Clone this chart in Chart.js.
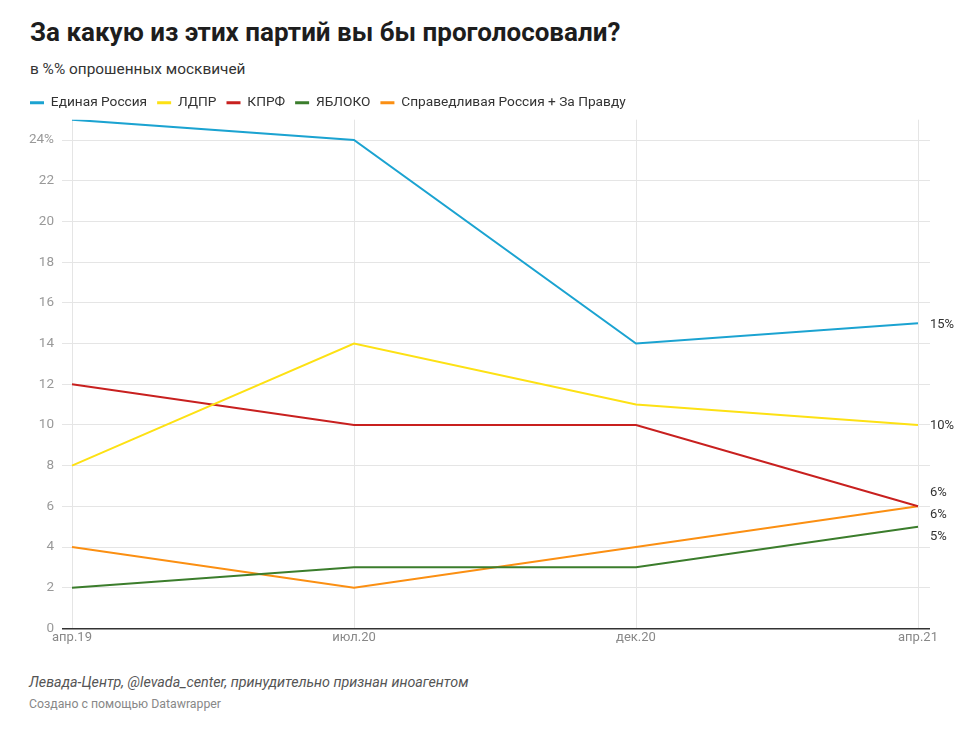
<!DOCTYPE html>
<html>
<head>
<meta charset="utf-8">
<script src="https://cdn.jsdelivr.net/npm/chart.js@4.4.1/dist/chart.umd.min.js"></script>
<style>
  body { margin: 0; background: #fff; font-family: Roboto, sans-serif; }
  #wrap { position: relative; width: 974px; height: 729px; }
  #title { position: absolute; left: 30px; top: 17px; font-size: 26px; font-weight: 700; color: #1d1d1d; }
  #sub { position: absolute; left: 30px; top: 60px; font-size: 15.4px; color: #333; }
  #src { position: absolute; left: 29px; top: 674px; font-size: 14.3px; font-style: italic; color: #555; }
  #made { position: absolute; left: 29px; top: 697px; font-size: 12.3px; color: #888; }
  #cv { position: absolute; left: 0; top: 86px; }
</style>
</head>
<body>
<div id="wrap">
  <div id="title">За какую из этих партий вы бы проголосовали?</div>
  <div id="sub">в %% опрошенных москвичей</div>
  <canvas id="cv" width="974" height="562"></canvas>
  <div id="src">Левада-Центр, @levada_center, принудительно признан иноагентом</div>
  <div id="made">Создано с помощью Datawrapper</div>
</div>
<script>
// периоды опросов
const periods = ['апр.19', 'июл.20', 'дек.20', 'апр.21'];

const er     = [25, 24, 14, 15];
const ldpr   = [8, 14, 11, 10];
const kprf   = [12, 10, 10, 6];
const yabloko = [2, 3, 3, 5];
const sr     = [4, 2, 4, 6];

const yTicks = [0, 2, 4, 6, 8, 10, 12, 14, 16, 18, 20, 22, 24];

function mkSet(label, data, color, nudge) {
    return {
        label: label,
        data: data.map((v, i) => ({x: i, y: v})),
        borderColor: color,
        backgroundColor: color,
        borderWidth: 2,
        pointRadius: 0,
        tension: 0,
        nudge: nudge
    };
}

// подписи последних значений справа
const endLabels = {
    id: 'endLabels',
    afterDatasetsDraw(chart) {
        const ctx = chart.ctx;
        ctx.save();
        ctx.font = '13px Roboto';
        ctx.fillStyle = '#333';
        ctx.textBaseline = 'middle';
        chart.data.datasets.forEach((ds, i) => {
            const meta = chart.getDatasetMeta(i);
            const pt = meta.data[meta.data.length - 1];
            const v = ds.data[ds.data.length - 1].y;
            ctx.fillText(v + '%', chart.chartArea.right, pt.y + ds.nudge);
        });
        ctx.restore();
    }
};

new Chart(document.getElementById('cv'), {
    type: 'line',
    data: {
        datasets: [
            mkSet('Единая Россия', er, '#1ba3d1', 2),
            mkSet('ЛДПР', ldpr, '#fde114', 1),
            mkSet('КПРФ', kprf, '#c8201f', -14),
            mkSet('ЯБЛОКО', yabloko, '#3b7d2c', 10),
            mkSet('Справедливая Россия + За Правду', sr, '#fb8f12', 8)
        ]
    },
    plugins: [endLabels],
    options: {
        responsive: false,
        animation: false,
        layout: { padding: { left: 20, right: 44, top: 0, bottom: 0 } },
        plugins: {
            tooltip: { enabled: false },
            legend: {
                position: 'top',
                align: 'start',
                labels: {
                    boxWidth: 14,
                    boxHeight: 3,
                    padding: 10,
                    color: '#333',
                    font: { family: 'Roboto', size: 13.7 },
                    generateLabels(chart) {
                        return Chart.defaults.plugins.legend.labels.generateLabels(chart)
                            .map(l => Object.assign(l, { lineWidth: 0 }));
                    }
                }
            }
        },
        scales: {
            x: {
                type: 'linear',
                min: -10 / 282,
                max: 3 + 12 / 282,
                afterBuildTicks(scale) {
                    scale.ticks = periods.map((p, i) => ({ value: i }));
                },
                ticks: {
                    autoSkip: false,
                    maxRotation: 0,
                    padding: 2,
                    color: '#888',
                    font: { family: 'Roboto', size: 13 },
                    callback: (v) => periods[v]
                },
                grid: { color: '#e5e5e5', drawTicks: false },
                border: { display: false }
            },
            y: {
                min: 0,
                max: 25,
                afterBuildTicks(scale) {
                    scale.ticks = yTicks.map(v => ({ value: v }));
                },
                afterFit(scale) { scale.width = 42; },
                ticks: {
                    padding: 8,
                    color: '#999',
                    font: { family: 'Roboto', size: 13.5 },
                    callback: (v) => v === 24 ? '24%' : v
                },
                grid: {
                    drawTicks: false,
                    color: (c) => c.tick && c.tick.value === 0 ? '#333' : '#e5e5e5',
                    lineWidth: (c) => c.tick && c.tick.value === 0 ? 1.5 : 1
                },
                border: { display: false }
            }
        }
    }
});
</script>
</body>
</html>
